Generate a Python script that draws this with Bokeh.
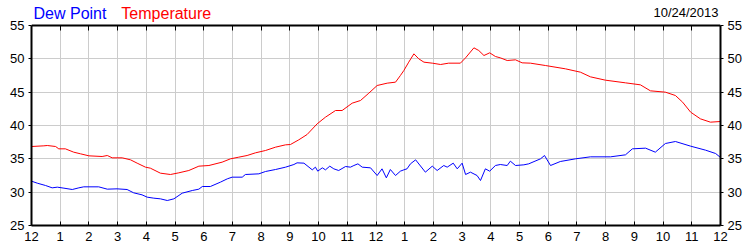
from bokeh.plotting import figure
from bokeh.models import FixedTicker, LinearAxis, Label, Range1d
from bokeh.embed import file_html
from bokeh.resources import INLINE

# ---- data ----
x_ticks = list(range(25))
x_labels = ["12", "1", "2", "3", "4", "5", "6", "7", "8", "9", "10", "11",
            "12", "1", "2", "3", "4", "5", "6", "7", "8", "9", "10", "11", "12"]
y_ticks = [25, 30, 35, 40, 45, 50, 55]

temp_hours = [0, 0.43, 0.55, 0.84, 0.95, 1.18, 1.47, 1.71, 2.0, 2.46, 2.64, 2.81,
              3.16, 3.45, 3.68, 3.97, 4.14, 4.49, 4.84, 5.13, 5.48, 5.83, 6.18,
              6.64, 6.93, 7.22, 7.51, 7.8, 8.15, 8.5, 8.85, 9.02, 9.31, 9.6, 9.95,
              10.24, 10.59, 10.82, 11.17, 11.46, 11.75, 12.04, 12.39, 12.68, 12.85,
              12.97, 13.14, 13.32, 13.49, 13.67, 13.96, 14.25, 14.53, 14.94, 15.12,
              15.41, 15.58, 15.76, 15.96, 16.16, 16.33, 16.57, 16.86, 17.09, 17.38,
              17.9, 18.6, 19.12, 19.47, 19.99, 20.69, 21.21, 21.56, 22.08, 22.43,
              22.68, 22.96, 23.3, 23.65, 24.0]
temp_values = [36.85, 36.95, 37.0, 36.85, 36.5, 36.5, 36.0, 35.75, 35.45, 35.35, 35.5, 35.15,
               35.15, 34.85, 34.35, 33.75, 33.6, 32.85, 32.65, 32.9, 33.25, 33.9, 34.0,
               34.5, 35.0, 35.25, 35.5, 35.9, 36.25, 36.75, 37.1, 37.15, 37.85, 38.65, 40.25,
               41.25, 42.25, 42.25, 43.35, 43.75, 44.85, 46.0, 46.35, 46.5, 47.5,
               48.25, 49.5, 50.75, 50.0, 49.5, 49.35, 49.15, 49.35, 49.35, 50.15,
               51.65, 51.25, 50.5, 50.9, 50.35, 50.15, 49.75, 49.85, 49.4, 49.35,
               49.0, 48.5, 48.0, 47.3, 46.8, 46.4, 46.1, 45.2, 45.0, 44.5,
               43.5, 42.0, 41.0, 40.5, 40.6]

dew_hours = [0, 0.2, 0.49, 0.72, 0.9, 1.13, 1.42, 1.65, 1.82, 2.34, 2.64, 2.98, 3.33,
             3.56, 3.85, 4.03, 4.26, 4.49, 4.73, 4.96, 5.25, 5.6, 5.83, 5.95, 6.23,
             6.58, 6.82, 6.99, 7.34, 7.45, 7.92, 8.15, 8.5, 8.85, 9.14, 9.25, 9.49,
             9.78, 9.89, 9.97, 10.13, 10.24, 10.39, 10.53, 10.7, 10.94, 11.11, 11.23,
             11.37, 11.52, 11.81, 12.04, 12.21, 12.36, 12.5, 12.68, 12.85, 12.97,
             13.08, 13.2, 13.38, 13.72, 13.96, 14.13, 14.36, 14.48, 14.69, 14.83,
             15.0, 15.12, 15.29, 15.52, 15.64, 15.81, 15.96, 16.16, 16.33, 16.57,
             16.68, 16.86, 17.15, 17.32, 17.73, 17.87, 18.08, 18.42, 18.95, 19.47,
             20.17, 20.69, 20.93, 21.39, 21.73, 22.08, 22.43, 22.96, 23.48, 23.83, 24.0]
dew_values = [31.65, 31.35, 31.0, 30.65, 30.75, 30.6, 30.4, 30.65, 30.8, 30.8, 30.45, 30.5, 30.4,
              29.9, 29.6, 29.25, 29.1, 29.0, 28.75, 29.0, 29.85, 30.25, 30.45, 30.85, 30.85,
              31.5, 32.0, 32.25, 32.25, 32.65, 32.75, 33.1, 33.4, 33.75, 34.15, 34.4, 34.35,
              33.35, 33.75, 33.15, 33.65, 33.35, 33.9, 33.5, 33.25, 33.85, 33.75, 34.0,
              34.25, 33.75, 33.65, 32.5, 33.5, 32.15, 33.4, 32.5, 33.15, 33.35,
              33.5, 34.25, 34.85, 33.0, 33.9, 33.25, 34.0, 33.75, 34.35, 33.5,
              34.35, 32.65, 33.0, 32.5, 31.75, 33.5, 33.15, 34.0, 34.15, 34.0,
              34.65, 34.0, 34.1, 34.25, 35.0, 35.5, 34.0, 34.6, 35.0, 35.3,
              35.3, 35.6, 36.5, 36.6, 36.0, 37.3, 37.6, 36.9, 36.3, 35.8, 35.2]

FONT = "Liberation Sans"
Y_MIN, Y_MAX = y_ticks[0], y_ticks[-1]
# frame extends above the 55 line so the header texts sit inside it (25 px = 3.75 units)
Y_TOP = Y_MAX + 3.75

p = figure(width=750, height=250, output_backend="svg", toolbar_location=None,
           x_range=Range1d(0, 24), y_range=Range1d(Y_MIN, Y_TOP),
           min_border_left=31, min_border_right=30, min_border_top=0,
           min_border_bottom=25)
p.background_fill_color = "white"
p.border_fill_color = "white"
p.outline_line_color = None

# bottom axis
xa = p.xaxis[0]
xa.ticker = FixedTicker(ticks=x_ticks)
xa.major_label_overrides = {t: lab for t, lab in zip(x_ticks, x_labels)}
xa.major_tick_in = 4
xa.major_tick_out = 0
xa.minor_tick_line_color = None
xa.major_label_standoff = 6
xa.major_label_text_font = FONT
xa.major_label_text_font_size = "13px"
xa.major_label_text_color = "black"
xa.axis_line_color = "black"
xa.axis_line_width = 2

# left axis
ya = p.yaxis[0]
ya.ticker = FixedTicker(ticks=y_ticks)
ya.bounds = (Y_MIN, Y_MAX)
ya.major_tick_in = 0
ya.major_tick_out = 3
ya.minor_tick_line_color = None
ya.major_label_standoff = 4
ya.major_label_text_font = FONT
ya.major_label_text_font_size = "13px"
ya.major_label_text_color = "black"
ya.axis_line_color = "black"
ya.axis_line_width = 2

# top line with inward ticks, drawn at y = 55
top = LinearAxis(ticker=FixedTicker(ticks=x_ticks), fixed_location=Y_MAX,
                 major_tick_in=5, major_tick_out=0, minor_tick_line_color=None,
                 major_label_text_color=None, major_label_standoff=0,
                 axis_line_color="black", axis_line_width=2)
p.add_layout(top, "above")

# right axis
right = LinearAxis(ticker=FixedTicker(ticks=y_ticks), bounds=(Y_MIN, Y_MAX),
                   major_tick_in=0, major_tick_out=3,
                   minor_tick_line_color=None, major_label_standoff=4,
                   major_label_text_font=FONT, major_label_text_font_size="13px",
                   major_label_text_color="black", axis_line_color="black",
                   axis_line_width=2)
p.add_layout(right, "right")

p.ygrid.ticker = FixedTicker(ticks=y_ticks)
p.ygrid.grid_line_color = "#cccccc"
p.xgrid.ticker = FixedTicker(ticks=x_ticks)
p.xgrid.grid_line_color = "#cccccc"
try:
    p.xgrid.cross_bounds = (Y_MIN, Y_MAX)
except Exception:
    p.xgrid.visible = False
    p.segment(x0=x_ticks, y0=[Y_MIN] * len(x_ticks), x1=x_ticks,
              y1=[Y_MAX] * len(x_ticks), line_color="#cccccc", level="underlay")

p.line(dew_hours, dew_values, line_color="#0000ff", line_width=1)
p.line(temp_hours, temp_values, line_color="#ff0000", line_width=1)

p.add_layout(Label(x=0.07, y=56.85, text="Dew Point", text_color="#0000ff",
                   text_font=FONT, text_font_size="16px", text_baseline="alphabetic"))
p.add_layout(Label(x=3.13, y=56.85, text="Temperature", text_color="#ff0000",
                   text_font=FONT, text_font_size="16px", text_baseline="alphabetic"))
p.add_layout(Label(x=23.93, y=57.0, text="10/24/2013", text_color="black",
                   text_font=FONT, text_font_size="13px", text_align="right",
                   text_baseline="alphabetic"))

open("out.html", "w").write(file_html(p, INLINE))
